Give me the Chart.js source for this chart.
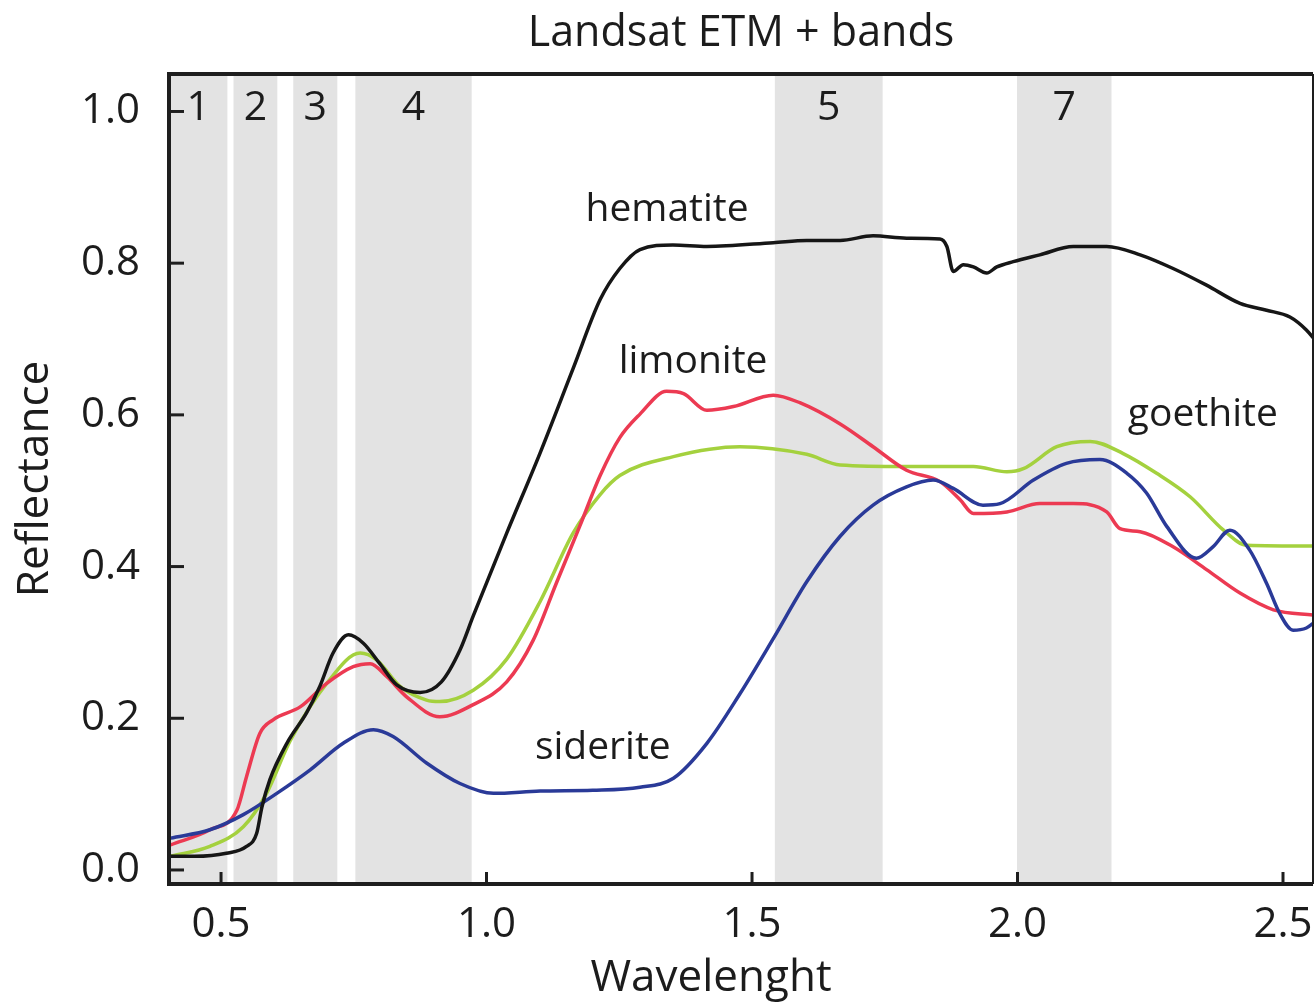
<!DOCTYPE html>
<html>
<head>
<meta charset="utf-8">
<title>Landsat ETM + bands</title>
<script src="https://cdn.jsdelivr.net/npm/chart.js@4.4.1/dist/chart.umd.min.js"></script>
<style>
    html, body { margin: 0; padding: 0; background: #fff; }
    #wrap { width: 1316px; height: 1008px; }
</style>
</head>
<body>
<div id="wrap"><canvas id="chartBands" width="1316" height="1008"></canvas></div>
<script>
(function() {
    'use strict';

    // Reflectance spectra (wavelength in µm, reflectance 0-1)
    var hematiteWl = [0.405, 0.45, 0.51, 0.548, 0.567, 0.577, 0.592, 0.624, 0.661, 0.686, 0.711, 0.74, 0.768, 0.799, 0.831, 0.875, 0.915, 0.95, 0.975, 1.038, 1.101, 1.163, 1.214, 1.251, 1.289, 1.351, 1.415, 1.54, 1.603, 1.666, 1.728, 1.791, 1.854, 1.867, 1.879, 1.898, 1.917, 1.942, 1.961, 1.992, 2.042, 2.105, 2.168, 2.231, 2.293, 2.356, 2.419, 2.469, 2.513, 2.544, 2.56];
    var hematiteR  = [0.018, 0.018, 0.022, 0.031, 0.048, 0.083, 0.119, 0.167, 0.207, 0.242, 0.286, 0.31, 0.299, 0.272, 0.244, 0.234, 0.248, 0.29, 0.335, 0.444, 0.55, 0.661, 0.752, 0.793, 0.818, 0.824, 0.822, 0.827, 0.83, 0.83, 0.836, 0.833, 0.832, 0.822, 0.789, 0.798, 0.795, 0.787, 0.795, 0.802, 0.811, 0.822, 0.822, 0.811, 0.793, 0.771, 0.747, 0.738, 0.729, 0.712, 0.699];

    var limoniteWl = [0.405, 0.479, 0.53, 0.548, 0.573, 0.598, 0.649, 0.699, 0.749, 0.781, 0.812, 0.85, 0.912, 0.975, 1.038, 1.088, 1.132, 1.176, 1.214, 1.251, 1.289, 1.339, 1.371, 1.415, 1.465, 1.54, 1.59, 1.666, 1.728, 1.791, 1.854, 1.892, 1.917, 1.98, 2.042, 2.105, 2.168, 2.193, 2.231, 2.293, 2.356, 2.419, 2.482, 2.56];
    var limoniteR  = [0.033, 0.053, 0.079, 0.123, 0.18, 0.198, 0.215, 0.246, 0.268, 0.272, 0.255, 0.228, 0.202, 0.218, 0.248, 0.303, 0.379, 0.454, 0.52, 0.57, 0.601, 0.631, 0.628, 0.606, 0.611, 0.626, 0.616, 0.588, 0.558, 0.527, 0.512, 0.488, 0.47, 0.472, 0.483, 0.483, 0.472, 0.45, 0.446, 0.426, 0.396, 0.365, 0.343, 0.336];

    var goethiteWl = [0.405, 0.479, 0.542, 0.585, 0.63, 0.699, 0.762, 0.793, 0.837, 0.887, 0.912, 0.975, 1.038, 1.101, 1.163, 1.214, 1.251, 1.352, 1.477, 1.603, 1.666, 1.791, 1.917, 1.98, 2.011, 2.074, 2.137, 2.199, 2.262, 2.325, 2.388, 2.432, 2.56];
    var goethiteR  = [0.018, 0.031, 0.057, 0.1, 0.17, 0.246, 0.286, 0.277, 0.242, 0.224, 0.222, 0.237, 0.278, 0.354, 0.444, 0.495, 0.52, 0.545, 0.558, 0.548, 0.534, 0.532, 0.532, 0.525, 0.529, 0.558, 0.565, 0.549, 0.523, 0.492, 0.448, 0.428, 0.427];

    var sideriteWl = [0.405, 0.479, 0.542, 0.605, 0.668, 0.73, 0.787, 0.824, 0.887, 0.95, 1.013, 1.101, 1.2, 1.289, 1.352, 1.415, 1.477, 1.54, 1.603, 1.666, 1.728, 1.791, 1.841, 1.879, 1.935, 1.967, 2.03, 2.092, 2.155, 2.206, 2.243, 2.281, 2.337, 2.368, 2.4, 2.437, 2.469, 2.494, 2.519, 2.544, 2.56];
    var sideriteR  = [0.042, 0.053, 0.073, 0.101, 0.132, 0.167, 0.185, 0.176, 0.141, 0.114, 0.101, 0.104, 0.105, 0.109, 0.121, 0.167, 0.232, 0.305, 0.38, 0.44, 0.481, 0.505, 0.514, 0.503, 0.481, 0.483, 0.514, 0.536, 0.541, 0.523, 0.497, 0.453, 0.411, 0.426, 0.448, 0.422, 0.378, 0.338, 0.316, 0.319, 0.327];

    // Landsat ETM+ bands as drawn (µm)
    var bandNames  = ['1', '2', '3', '4', '5', '7'];
    var bandStart  = [0.402, 0.5235, 0.636, 0.753, 1.543, 1.999];
    var bandEnd    = [0.512, 0.606, 0.719, 0.972, 1.746, 2.177];

    var xTicks = [0.5, 1.0, 1.5, 2.0, 2.5];
    var yTicks = [0.0, 0.2, 0.4, 0.6, 0.8, 1.0];

    function pts(xs, ys) {
        return xs.map(function(x, i) { return { x: x, y: ys[i] }; });
    }

    var FONT = '"Open Sans", "Noto Sans", sans-serif';
    var INK = '#1c1c1c';

    // curve names, anchored in data units
    var curveLabels = [
        { text: 'hematite', x: 1.34,  y: 0.87 },
        { text: 'limonite', x: 1.389, y: 0.67 },
        { text: 'goethite', x: 2.349, y: 0.60 },
        { text: 'siderite', x: 1.219, y: 0.161 }
    ];

    var decor = {
        id: 'decor',
        beforeDatasetsDraw: function(chart) {
            var c = chart.ctx, a = chart.chartArea;
            var xs = chart.scales.x, ys = chart.scales.y;
            c.save();
            c.fillStyle = '#e3e3e3';
            bandStart.forEach(function(b, i) {
                var x0 = Math.max(xs.getPixelForValue(b), a.left);
                var x1 = xs.getPixelForValue(bandEnd[i]);
                c.fillRect(x0, a.top, x1 - x0, a.bottom - a.top);
            });
            c.fillStyle = INK;
            c.font = '41px ' + FONT;
            c.textAlign = 'center';
            c.textBaseline = 'middle';
            bandNames.forEach(function(n, i) {
                var xm = xs.getPixelForValue((bandStart[i] + bandEnd[i]) / 2);
                c.fillText(n, xm, ys.getPixelForValue(1.0) - 3);
            });
            c.restore();
        },
        afterDatasetsDraw: function(chart) {
            var c = chart.ctx, a = chart.chartArea;
            var xs = chart.scales.x, ys = chart.scales.y;
            c.save();
            c.strokeStyle = '#1e1e1e';
            c.lineCap = 'butt';

            // frame
            c.lineWidth = 4;
            c.beginPath();
            c.moveTo(a.right, a.top); c.lineTo(a.left, a.top);
            c.lineTo(a.left, a.bottom); c.lineTo(a.right, a.bottom);
            c.stroke();
            c.lineWidth = 2;
            c.beginPath();
            c.moveTo(a.right, a.top); c.lineTo(a.right, a.bottom);
            c.stroke();

            // inward ticks
            c.lineWidth = 3;
            yTicks.forEach(function(v) {
                var y = ys.getPixelForValue(v);
                c.beginPath(); c.moveTo(a.left, y); c.lineTo(a.left + 15, y); c.stroke();
            });
            xTicks.forEach(function(v) {
                var x = xs.getPixelForValue(v);
                c.beginPath(); c.moveTo(x, a.bottom); c.lineTo(x, a.bottom - 12); c.stroke();
            });

            // labels
            c.fillStyle = INK;
            c.textAlign = 'center';
            c.textBaseline = 'middle';
            c.font = '39px ' + FONT;
            curveLabels.forEach(function(l) {
                c.fillText(l.text, xs.getPixelForValue(l.x), ys.getPixelForValue(l.y));
            });

            c.font = '43px ' + FONT;
            c.fillText('Landsat ETM + bands', (a.left + a.right) / 2, 34);
            c.font = '44px ' + FONT;
            c.fillText('Wavelenght', a.left + 542, 978);

            c.translate(35, (a.top + a.bottom) / 2);
            c.rotate(-Math.PI / 2);
            c.fillText('Reflectance', 0, 0);
            c.restore();
        }
    };

    function line(label, data, color) {
        return {
            label: label,
            data: data,
            borderColor: color,
            backgroundColor: color,
            borderWidth: 3.5,
            pointRadius: 0,
            fill: false,
            cubicInterpolationMode: 'monotone'
        };
    }

    new Chart(document.getElementById('chartBands'), {
        type: 'line',
        data: {
            datasets: [
                line('hematite', pts(hematiteWl, hematiteR), '#161616'),
                line('siderite', pts(sideriteWl, sideriteR), '#2a3a98'),
                line('limonite', pts(limoniteWl, limoniteR), '#ec3a52'),
                line('goethite', pts(goethiteWl, goethiteR), '#a4d13e')
            ]
        },
        options: {
            responsive: false,
            animation: false,
            layout: { padding: { top: 74, right: 3, left: 0, bottom: 0 } },
            plugins: {
                legend: { display: false },
                tooltip: { enabled: false },
                title: { display: false }
            },
            scales: {
                x: {
                    type: 'linear',
                    min: 0.402,
                    max: 2.5565,
                    grid: { display: false },
                    border: { display: false },
                    afterBuildTicks: function(s) { s.ticks = xTicks.map(function(v) { return { value: v }; }); },
                    afterFit: function(s) { s.height = 124; s.paddingLeft = 0; s.paddingRight = 0; },
                    ticks: {
                        padding: 8,
                        color: INK,
                        maxRotation: 0,
                        font: { family: FONT, size: 42 },
                        callback: function(v) { return Number(v).toFixed(1); }
                    }
                },
                y: {
                    min: -0.0185,
                    max: 1.0494,
                    grid: { display: false },
                    border: { display: false },
                    afterBuildTicks: function(s) { s.ticks = yTicks.map(function(v) { return { value: v }; }); },
                    afterFit: function(s) { s.width = 169; s.paddingTop = 0; s.paddingBottom = 0; },
                    ticks: {
                        padding: 21,
                        color: INK,
                        font: { family: FONT, size: 42 },
                        callback: function(v) { return Number(v).toFixed(1); }
                    }
                }
            }
        },
        plugins: [decor]
    });
})();
</script>
</body>
</html>
